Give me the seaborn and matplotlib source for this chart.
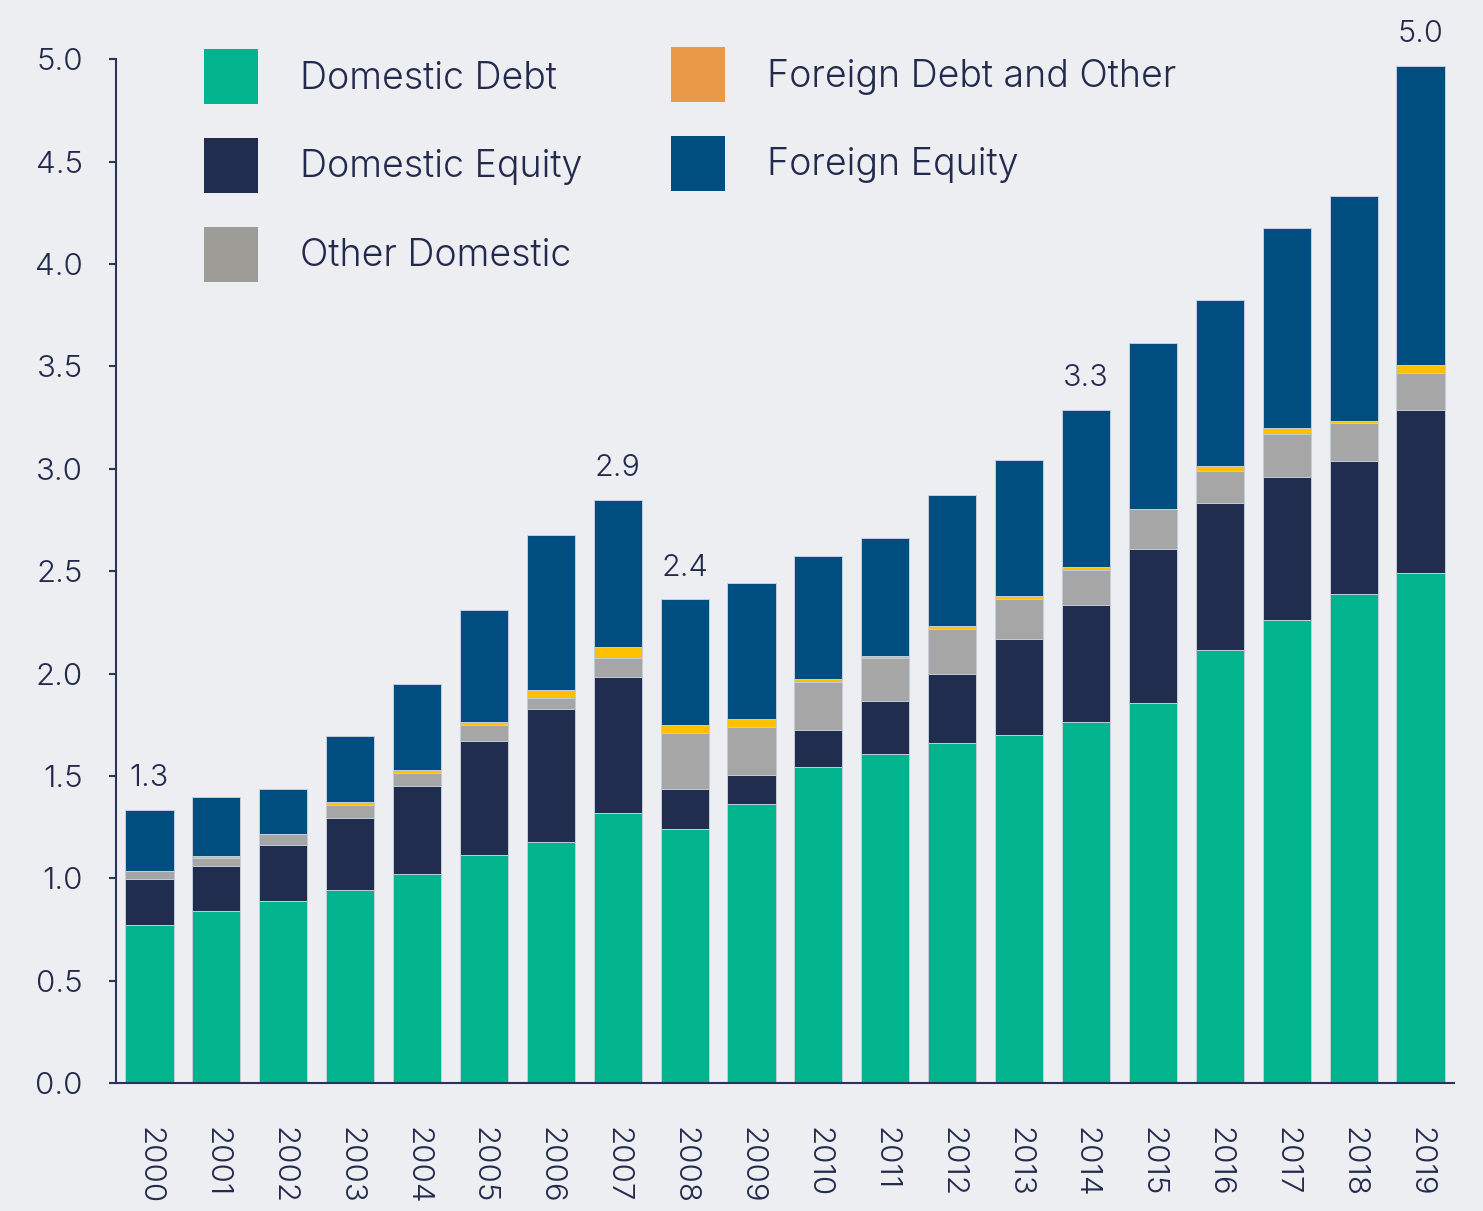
import matplotlib
matplotlib.use("Agg")
import matplotlib.pyplot as plt
from matplotlib.patches import Patch
import numpy as np
import pandas as pd
import seaborn as sns

# ---------------- data ----------------
years = [str(y) for y in range(2000, 2020)]
domestic_debt = [0.774, 0.839, 0.891, 0.941, 1.020, 1.112, 1.177, 1.321, 1.243, 1.361,
                 1.542, 1.608, 1.660, 1.699, 1.762, 1.855, 2.116, 2.260, 2.388, 2.492]
domestic_equity = [0.220, 0.220, 0.272, 0.352, 0.431, 0.559, 0.650, 0.663, 0.193, 0.141,
                   0.181, 0.259, 0.339, 0.468, 0.574, 0.754, 0.715, 0.701, 0.652, 0.795]
other_domestic = [0.040, 0.040, 0.052, 0.065, 0.064, 0.078, 0.054, 0.091, 0.274, 0.235,
                  0.236, 0.210, 0.219, 0.195, 0.171, 0.196, 0.157, 0.211, 0.182, 0.183]
foreign_debt_other = [0.000, 0.012, 0.000, 0.013, 0.013, 0.013, 0.038, 0.054, 0.041, 0.039,
                      0.012, 0.011, 0.014, 0.015, 0.012, 0.000, 0.027, 0.026, 0.013, 0.039]
foreign_equity = [0.299, 0.288, 0.223, 0.326, 0.419, 0.548, 0.756, 0.721, 0.612, 0.664,
                  0.601, 0.574, 0.640, 0.664, 0.768, 0.808, 0.810, 0.976, 1.097, 1.459]
labelled_years = ["2000", "2007", "2008", "2014", "2019"]
y_ticks = [0.0, 0.5, 1.0, 1.5, 2.0, 2.5, 3.0, 3.5, 4.0, 4.5, 5.0]

series_names = ["Domestic Debt", "Domestic Equity", "Other Domestic",
                "Foreign Debt and Other", "Foreign Equity"]
bar_colors = ["#02B48E", "#212D4F", "#A6A6A6", "#FFC000", "#004D80"]
legend_colors = ["#02B48E", "#212D4F", "#9D9C97", "#E99A48", "#004D80"]

BG = "#ECEEF2"
TEXT = "#222B4D"
AXIS = "#2A3456"

sns.set_theme(style="white")
plt.rcParams["font.family"] = ["Inter", "DejaVu Sans"]
plt.rcParams["font.weight"] = 300

df = pd.DataFrame({
    "year": years,
    "Domestic Debt": domestic_debt,
    "Domestic Equity": domestic_equity,
    "Other Domestic": other_domestic,
    "Foreign Debt and Other": foreign_debt_other,
    "Foreign Equity": foreign_equity,
})
cum = df[series_names].cumsum(axis=1)
cum["year"] = df["year"]

fig = plt.figure(figsize=(14.83, 12.11), dpi=100, facecolor=BG)
ax = fig.add_axes([0.0782, 0.1057, 0.9022, 0.8453])
ax.set_facecolor(BG)

# stacked bars via overlaid cumulative totals (top series first)
for name, color in reversed(list(zip(series_names, bar_colors))):
    sns.barplot(data=cum, x="year", y=name, order=years, color=color, saturation=1,
                width=0.72, errorbar=None, edgecolor="#C3CEDB", linewidth=0.7, ax=ax)

totals = cum["Foreign Equity"].tolist()
for yr in labelled_years:
    i = years.index(yr)
    ax.annotate(f"{totals[i]:.1f}", (i, totals[i]), xytext=(0, 17),
                textcoords="offset points", ha="center", va="baseline",
                fontsize=22, color=TEXT, annotation_clip=False)

ax.set_xlim(-0.5, len(years) - 0.5)
ax.set_ylim(0, 5.0)
ax.set_yticks(y_ticks)
ax.set_yticklabels([f"{v:.1f}" for v in y_ticks])
ax.set_xlabel("")
ax.set_ylabel("")
sns.despine(ax=ax)
for s in ("left", "bottom"):
    ax.spines[s].set_color(AXIS)
    ax.spines[s].set_linewidth(1.5)
ax.tick_params(axis="y", length=5, width=1.5, color=AXIS, pad=19,
               labelsize=22.5, labelcolor=TEXT, left=True)
ax.tick_params(axis="x", length=0, pad=32, labelsize=22.5, labelcolor=TEXT)
for lbl in ax.get_xticklabels():
    lbl.set_rotation(270)
    lbl.set_ha("center")
    lbl.set_va("top")

handles = [Patch(facecolor=c, edgecolor="none", label=n)
           for n, c in zip(series_names, legend_colors)]
common = dict(loc="upper left", frameon=False, fontsize=27, handlelength=1.44,
              handleheight=1.88, handletextpad=1.12, labelspacing=0.9,
              borderpad=0, borderaxespad=0, labelcolor=TEXT)
fig.legend(handles=handles[:3], bbox_to_anchor=(0.1376, 0.9595), **common)
fig.legend(handles=handles[3:], bbox_to_anchor=(0.4525, 0.9612), **common)

fig.savefig("out.png", dpi=100, facecolor=BG)
